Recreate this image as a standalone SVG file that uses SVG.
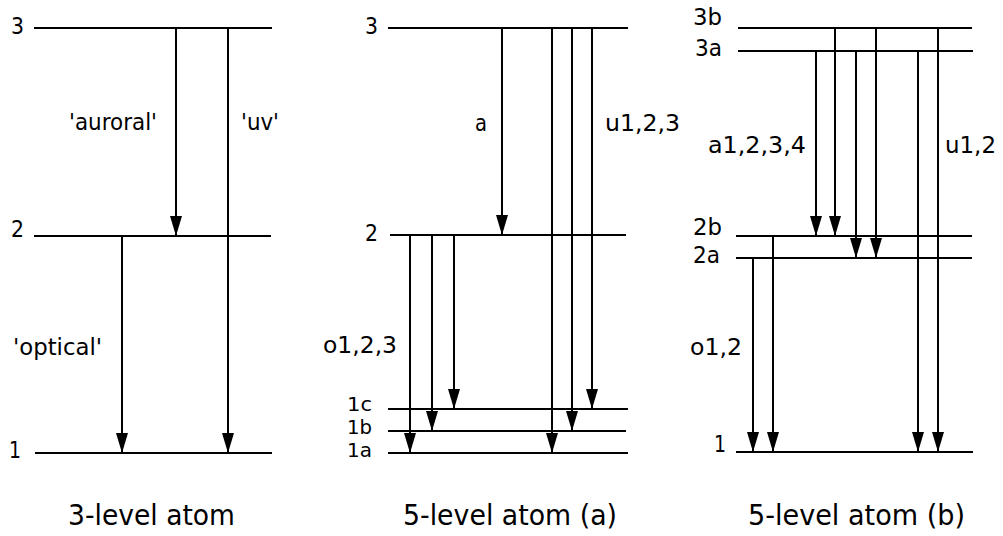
<svg xmlns="http://www.w3.org/2000/svg" width="1003" height="536" viewBox="0 0 1003 536">
<style>
.lvl{stroke:#000;stroke-width:2;fill:none}
.arr{stroke:#000;stroke-width:2;fill:none;marker-end:url(#ah)}
text{font-family:"DejaVu Sans","Liberation Sans",sans-serif;font-size:22.5px;fill:#000}
.cap{font-size:29px}
.sm{font-size:19.5px}
</style>
<defs>
<marker id="ah" markerUnits="userSpaceOnUse" markerWidth="20" markerHeight="12" viewBox="0 -6 20 12" refX="20" refY="0" orient="auto">
<path d="M0,-6 L20,0 L0,6 z" fill="#000"/>
</marker>
</defs>
<rect width="1003" height="536" fill="#fff"/>

<g id="atom3">
<line class="lvl" x1="34" y1="28" x2="272" y2="28"/>
<line class="lvl" x1="34" y1="236" x2="271" y2="236"/>
<line class="lvl" x1="35" y1="453" x2="272" y2="453"/>
<text x="11" y="34" textLength="13" lengthAdjust="spacingAndGlyphs">3</text>
<text x="11" y="237" textLength="13" lengthAdjust="spacingAndGlyphs">2</text>
<text x="9" y="458" textLength="12" lengthAdjust="spacingAndGlyphs">1</text>
<text x="69" y="130" textLength="88" lengthAdjust="spacingAndGlyphs">'auroral'</text>
<text x="241" y="130" textLength="38" lengthAdjust="spacingAndGlyphs">'uv'</text>
<text x="13" y="355" textLength="89" lengthAdjust="spacingAndGlyphs">'optical'</text>
<text class="cap" x="68" y="525" textLength="167" lengthAdjust="spacingAndGlyphs">3-level atom</text>
</g>

<g id="atom5a">
<line class="lvl" x1="388" y1="28" x2="628" y2="28"/>
<line class="lvl" x1="390" y1="235" x2="626" y2="235"/>
<line class="lvl" x1="388" y1="409" x2="628" y2="409"/>
<line class="lvl" x1="388" y1="431" x2="626" y2="431"/>
<line class="lvl" x1="388" y1="453" x2="628" y2="453"/>
<text x="365" y="34" textLength="13" lengthAdjust="spacingAndGlyphs">3</text>
<text x="365" y="241" textLength="13" lengthAdjust="spacingAndGlyphs">2</text>
<text x="475" y="131" textLength="12" lengthAdjust="spacingAndGlyphs">a</text>
<text x="605" y="131" textLength="75" lengthAdjust="spacingAndGlyphs">u1,2,3</text>
<text x="323" y="353" textLength="74" lengthAdjust="spacingAndGlyphs">o1,2,3</text>
<text class="sm" x="347" y="411" textLength="25" lengthAdjust="spacingAndGlyphs">1c</text>
<text class="sm" x="347" y="434" textLength="25" lengthAdjust="spacingAndGlyphs">1b</text>
<text class="sm" x="347" y="457" textLength="25" lengthAdjust="spacingAndGlyphs">1a</text>
<text class="cap" x="403" y="525" textLength="214" lengthAdjust="spacingAndGlyphs">5-level atom (a)</text>
</g>

<g id="atom5b">
<line class="lvl" x1="738" y1="28" x2="972" y2="28"/>
<line class="lvl" x1="738" y1="51" x2="973" y2="51"/>
<line class="lvl" x1="736" y1="236" x2="972" y2="236"/>
<line class="lvl" x1="736" y1="258" x2="972" y2="258"/>
<line class="lvl" x1="736" y1="452" x2="973" y2="452"/>
<text x="693" y="25" textLength="29" lengthAdjust="spacingAndGlyphs">3b</text>
<text x="695" y="56" textLength="27" lengthAdjust="spacingAndGlyphs">3a</text>
<text x="708" y="153" textLength="98" lengthAdjust="spacingAndGlyphs">a1,2,3,4</text>
<text x="945" y="153" textLength="51" lengthAdjust="spacingAndGlyphs">u1,2</text>
<text x="693" y="235" textLength="29" lengthAdjust="spacingAndGlyphs">2b</text>
<text x="693" y="263" textLength="27" lengthAdjust="spacingAndGlyphs">2a</text>
<text x="690" y="355" textLength="52" lengthAdjust="spacingAndGlyphs">o1,2</text>
<text x="714" y="452" textLength="12" lengthAdjust="spacingAndGlyphs">1</text>
<text class="cap" x="748" y="525" textLength="217" lengthAdjust="spacingAndGlyphs">5-level atom (b)</text>
</g>

<g id="connectors">
<line class="arr" x1="176" y1="28" x2="176" y2="236"/>
<line class="arr" x1="228" y1="28" x2="228" y2="453"/>
<line class="arr" x1="122" y1="236" x2="122" y2="453"/>

<line class="arr" x1="502" y1="28" x2="502" y2="235"/>
<line class="arr" x1="552" y1="28" x2="552" y2="453"/>
<line class="arr" x1="572" y1="28" x2="572" y2="431"/>
<line class="arr" x1="592" y1="28" x2="592" y2="409"/>
<line class="arr" x1="410" y1="235" x2="410" y2="453"/>
<line class="arr" x1="432" y1="235" x2="432" y2="431"/>
<line class="arr" x1="454" y1="235" x2="454" y2="409"/>

<line class="arr" x1="816" y1="51" x2="816" y2="236"/>
<line class="arr" x1="835" y1="28" x2="835" y2="236"/>
<line class="arr" x1="856" y1="51" x2="856" y2="258"/>
<line class="arr" x1="876" y1="28" x2="876" y2="258"/>
<line class="arr" x1="918" y1="51" x2="918" y2="452"/>
<line class="arr" x1="938" y1="28" x2="938" y2="452"/>
<line class="arr" x1="753" y1="258" x2="753" y2="452"/>
<line class="arr" x1="773" y1="236" x2="773" y2="452"/>
</g>
</svg>
